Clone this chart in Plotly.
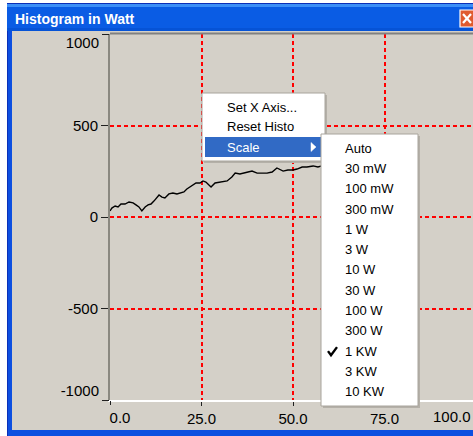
import plotly.graph_objects as go

# ---------------- data ----------------
x_vals = [0.0, 0.5, 1.4, 2.2, 3.0, 4.1, 5.2, 6.3, 7.1, 7.9, 8.7, 9.6, 10.4, 11.2, 12.0,
          12.8, 13.4, 14.2, 15.0, 16.1, 17.2, 18.3, 19.4, 20.2, 21.0, 21.9, 22.7, 23.5,
          24.6, 25.4, 26.2, 26.8, 27.6, 28.7, 30.1, 32.0, 33.3, 34.2, 35.5, 37.4, 38.8,
          40.2, 41.5, 42.9, 44.3, 45.6, 47.3, 48.6, 50.0, 51.1, 52.5, 53.8, 55.5, 56.8,
          57.9, 60.1, 62.8]
y_vals = [33, 49, 60, 55, 71, 71, 82, 77, 66, 55, 33, 55, 66, 71, 87,
          109, 120, 109, 104, 126, 131, 126, 131, 137, 153, 164, 175, 186,
          186, 197, 191, 180, 164, 186, 191, 197, 219, 240, 235, 246, 251,
          240, 240, 240, 246, 268, 251, 257, 257, 262, 273, 273, 279, 273,
          279, 290, 284]

x_inner_ticks = [25, 50, 75]
x_inner_labels = ["25.0", "50.0", "75.0"]
x_first_tick, x_first_label = 0, "0.0"
x_last_tick, x_last_label = 100, "100.0"
y_inner_ticks = [-500, 0, 500]
y_inner_labels = ["-500", "0", "500"]
y_top_tick, y_top_label = 1000, "1000"
y_bot_tick, y_bot_label = -1000, "-1000"

window_title = "Histogram in Watt"
menu_items = ["Set X Axis...", "Reset Histo", "Scale"]
highlighted_item = "Scale"
scale_items = ["Auto", "30 mW", "100 mW", "300 mW", "1 W", "3 W", "10 W",
               "30 W", "100 W", "300 W", "1 KW", "3 KW", "10 KW"]
checked_item = "1 KW"

# ---------------- geometry helpers (pixel -> paper) ----------------
W, H = 473, 436
L, R, T, B = 110, 473, 34, 400
def px(x):
    return (x - L) / (R - L)
def py(y):
    return (B - y) / (B - T)

x_range = [0, 100 * (R - L) / 366.0]
y_range = [-1000, 1000]

GREY = "#D4D0C8"
FONT = "Liberation Sans, Arial, sans-serif"

fig = go.Figure()
fig.add_trace(go.Scatter(x=x_vals, y=y_vals, mode="lines",
                         line=dict(color="black", width=1.4), hoverinfo="skip",
                         showlegend=False))
# empty traces that anchor the overlay axes used for the end tick labels
fig.add_trace(go.Scatter(x=[], y=[], xaxis="x2", yaxis="y2", showlegend=False))
fig.add_trace(go.Scatter(x=[], y=[], xaxis="x", yaxis="y3", showlegend=False))

tickfont = dict(family=FONT, size=15, color="black")

shapes = []
def rect(x0, y0, x1, y1, fill, line_color=None, lw=0, layer="below"):
    shapes.append(dict(type="rect", xref="paper", yref="paper",
                       x0=px(x0), x1=px(x1), y0=py(y1), y1=py(y0),
                       fillcolor=fill, layer=layer,
                       line=dict(color=line_color or fill, width=lw)))
def line(x0, y0, x1, y1, color, lw, layer="above"):
    shapes.append(dict(type="line", xref="paper", yref="paper",
                       x0=px(x0), x1=px(x1), y0=py(y0), y1=py(y1),
                       line=dict(color=color, width=lw), layer=layer))
def path(pts, color, lw, fill=None, layer="above"):
    d = "M " + " L ".join(f"{px(a)},{py(b)}" for a, b in pts)
    if fill:
        d += " Z"
    shapes.append(dict(type="path", xref="paper", yref="paper", path=d,
                       fillcolor=fill, line=dict(color=color, width=lw), layer=layer))

# window chrome
rect(7, 3, 480, 442, "#0A2FB8")
rect(8, 4, 480, 442, "#0D4FE0")
rect(7, 4, 480, 31, "#0A5CE4")
rect(7, 4, 480, 7, "#3C8FF7")
rect(7, 28, 480, 31, "#0653D6")
rect(12, 31, 480, 430, GREY)
# close button
rect(460, 10, 480, 27, "#E05A2E", "white", 1.2, layer="above")
line(463, 14, 471, 23, "white", 2.2)
line(471, 14, 463, 23, "white", 2.2)
# plot frame top edge
line(L, 33.5, 480, 33.5, "#808080", 2)

# context menu
rect(204, 95, 327, 163, "#B4B0A8", layer="above")
rect(202, 93, 325, 161, "white", "#A8A49C", 1, layer="above")
row_y0, row_h = 97, 20
for i, item in enumerate(menu_items):
    if item == highlighted_item:
        rect(205, row_y0 + i * row_h, 322, row_y0 + (i + 1) * row_h, "#316AC5", layer="above")
        cy = row_y0 + (i + 0.5) * row_h
        path([(311, cy - 4.5), (316, cy), (311, cy + 4.5)], "white", 0.5, fill="white")

# submenu
rect(323, 136, 420, 408, "#B4B0A8", layer="above")
rect(321, 134, 418, 406, "white", "#A8A49C", 1, layer="above")
sub_y0, sub_h = 138, 20.3
for i, item in enumerate(scale_items):
    if item == checked_item:
        cy = sub_y0 + (i + 0.5) * sub_h
        path([(328, cy), (331, cy + 4), (337, cy - 4)], "black", 2.4)

annotations = []
annotations.append(dict(xref="paper", yref="paper", x=px(13), y=py(19.5),
                        xanchor="left", yanchor="middle", showarrow=False,
                        text=f"<b>{window_title}</b>",
                        font=dict(family=FONT, size=14, color="white")))
for i, item in enumerate(menu_items):
    cy = row_y0 + (i + 0.5) * row_h
    annotations.append(dict(xref="paper", yref="paper", x=px(225), y=py(cy),
                            xanchor="left", yanchor="middle", showarrow=False,
                            text=item,
                            font=dict(family=FONT, size=13,
                                      color="white" if item == highlighted_item else "black")))
for i, item in enumerate(scale_items):
    cy = sub_y0 + (i + 0.5) * sub_h
    annotations.append(dict(xref="paper", yref="paper", x=px(343), y=py(cy),
                            xanchor="left", yanchor="middle", showarrow=False,
                            text=item, font=dict(family=FONT, size=13, color="black")))
# last x tick label sits past the visible end of the axis: place via axis fraction
annotations.append(dict(xref="paper", yref="paper",
                        x=(x_last_tick - x_range[0]) / (x_range[1] - x_range[0]), y=0,
                        xanchor="right", yanchor="top", xshift=-3, yshift=-6,
                        showarrow=False, text=x_last_label, font=tickfont))

common_axis = dict(tickfont=tickfont, ticks="outside", tickcolor="#202020",
                   zeroline=False)

fig.update_layout(
    width=W, height=H,
    margin=dict(l=L, r=W - R, t=T, b=H - B, pad=0),
    paper_bgcolor="white", plot_bgcolor=GREY,
    showlegend=False,
    xaxis=dict(range=x_range, tickvals=x_inner_ticks, ticktext=x_inner_labels,
               ticklen=4, showgrid=True, gridcolor="#FF0000", griddash="4px,3px",
               gridwidth=1.5, showline=True, linecolor="white", linewidth=2,
               **common_axis),
    xaxis2=dict(range=x_range, overlaying="x", anchor="y2", tickvals=[x_first_tick],
                ticktext=[x_first_label], ticklen=4, showgrid=False, ticklabelshift=10,
                showline=False, **common_axis),
    yaxis=dict(range=y_range, tickvals=y_inner_ticks, ticktext=y_inner_labels,
               ticklen=7, showgrid=True, gridcolor="#FF0000", griddash="4px,3px",
               gridwidth=1.5, showline=True, linecolor="#8A8880", linewidth=2,
               **common_axis),
    yaxis2=dict(range=y_range, overlaying="y", anchor="x2", tickvals=[y_top_tick],
                ticktext=[y_top_label], ticklen=7, showgrid=False, ticklabelshift=9,
                showline=False, **common_axis),
    yaxis3=dict(range=y_range, overlaying="y", anchor="x", tickvals=[y_bot_tick],
                ticktext=[y_bot_label], ticklen=7, showgrid=False, ticklabelshift=-9,
                showline=False, **common_axis),
    shapes=shapes,
    annotations=annotations,
)

fig.write_html("out.html", config={"displayModeBar": False},
               post_script="document.body.style.margin='0px';")
